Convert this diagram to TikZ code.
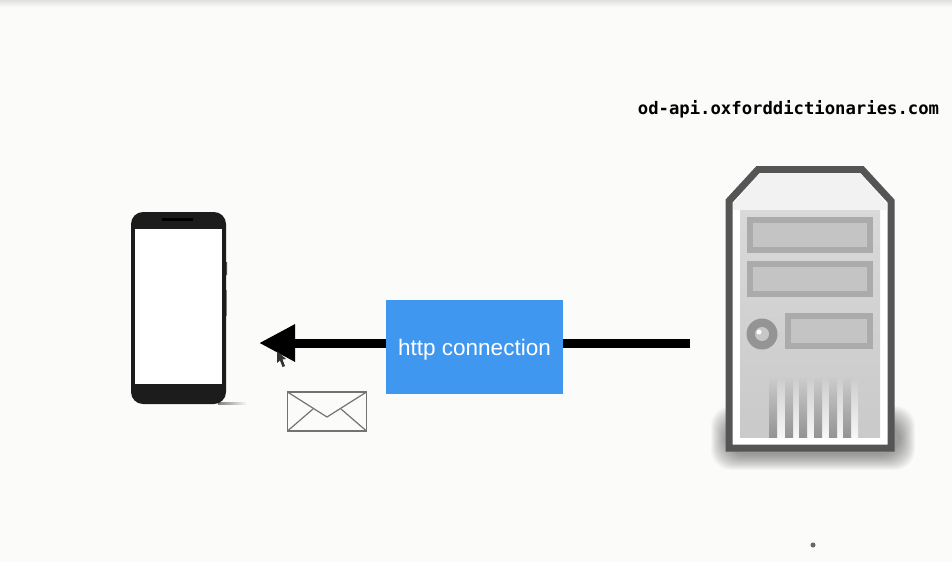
\documentclass[tikz,border=0pt]{standalone}
\usepackage{fontspec}
\setmainfont{Liberation Sans}
\newfontfamily\urlfont{DejaVu Sans Mono}[Scale=1]
\usetikzlibrary{positioning,arrows.meta}
\definecolor{pagebg}{HTML}{FBFBF9}
\definecolor{boxblue}{HTML}{3F97F0}
\definecolor{phoneblack}{HTML}{1C1C1C}
\definecolor{srvline}{HTML}{555555}
\definecolor{baydark}{HTML}{ABABAB}
\definecolor{baylight}{HTML}{C4C4C4}
\begin{document}
\begin{tikzpicture}
    [x=1pt,y=-1pt,
     conn/.style={rectangle,fill=boxblue,text=white,inner sep=0pt,outer sep=0pt,
       minimum width=177pt,minimum height=94pt,font=\fontsize{22.5}{26}\selectfont},
     phone/.style={rectangle,fill=phoneblack,rounded corners=12pt,inner sep=0pt,outer sep=0pt,
       minimum width=95pt,minimum height=192pt},
     phonescreen/.style={rectangle,fill=white,inner sep=0pt,outer sep=0pt,
       minimum width=87pt,minimum height=155pt},
     envbox/.style={rectangle,draw=black!55,line width=1.2pt,fill=pagebg,inner sep=0pt,
       outer sep=0pt,minimum width=79pt,minimum height=39pt},
     bay/.style={draw=baydark,fill=baylight,line width=6pt},
     link/.style={line width=9pt,-{Triangle[length=36pt,width=35pt]}}]
    \useasboundingbox (0,0) rectangle (952,562);
    \fill[pagebg] (0,0) rectangle (952,562);
    \fill[top color=black!12,bottom color=pagebg] (0,0) rectangle (952,7);

    \coordinate (srvport) at (690,343);
    \coordinate (tip) at (259,343);
    \draw[link] (srvport) -- (tip);

    \node[conn] (conn) at (474.5,347) {\raisebox{-8pt}[0pt][0pt]{http connection}};
    \shade[left color=black!50,right color=pagebg] (218,402.5) rectangle (247,404.5);
    \node[phone,left=160pt of conn,yshift=39pt] (phone) {};
    \node[phonescreen] (screen) at ([yshift=1.5pt]phone.center) {};
    \fill[black] (162,218) rectangle (193,220.5);
    \fill[black!70] (226,262) rectangle (227,275) (226,290) rectangle (226.7,316);

    \node[envbox] (mail) at (327,411.5) {};
    \draw[black!55,line width=1.2pt] (mail.north west) -- (327,417) -- (mail.north east);
    \draw[black!55,line width=1.2pt] (mail.south west) -- (313,409);
    \draw[black!55,line width=1.2pt] (mail.south east) -- (341,409);

    \fill[black!80] (277,351) -- (277,363) -- (280,360.5) -- (282.5,367) -- (285,366)
      -- (282.5,359.5) -- (286,359) -- cycle;

    \node[font=\urlfont\bfseries\fontsize{17.25}{20}\selectfont] (apiname) at (788.5,109)
      {od-api.oxforddictionaries.com};

    \foreach \d in {0,...,15}
      \fill[black,opacity=.026,rounded corners=20pt]
        (711+\d,406+\d) rectangle (915-\d,470-\d);
    \draw[srvline,line width=7pt,fill=white,miter limit=4]
      (729,201) -- (758,169.5) -- (862,169.5) -- (891,201) -- (891,448) -- (729,448) -- cycle;
    \fill[black!5] (733,204) -- (760,173) -- (860,173) -- (887,204) -- (887,210) -- (733,210) -- cycle;
    \shade[top color=black!15,bottom color=black!21] (740,210) rectangle (880,437);
    \foreach \y in {220,264}
      \draw[bay] (750,\y) rectangle (870,\y+30);
    \draw[bay] (788,316) rectangle (870,346);
    \fill[black!42] (762,334) circle (15.5);
    \fill[black!22] (762,334) circle (7);
    \fill[white] (759,332) circle (2.5);
    \shade[top color=black!20,bottom color=black!3] (769,377) rectangle (858,437);
    \foreach \x in {769,785,799,814,829,843}
      \shade[top color=black!20,bottom color=black!42] (\x,377) rectangle (\x+8,437);

    \fill[black!60] (813,545) circle (2.5);
  \end{tikzpicture}
\end{document}
